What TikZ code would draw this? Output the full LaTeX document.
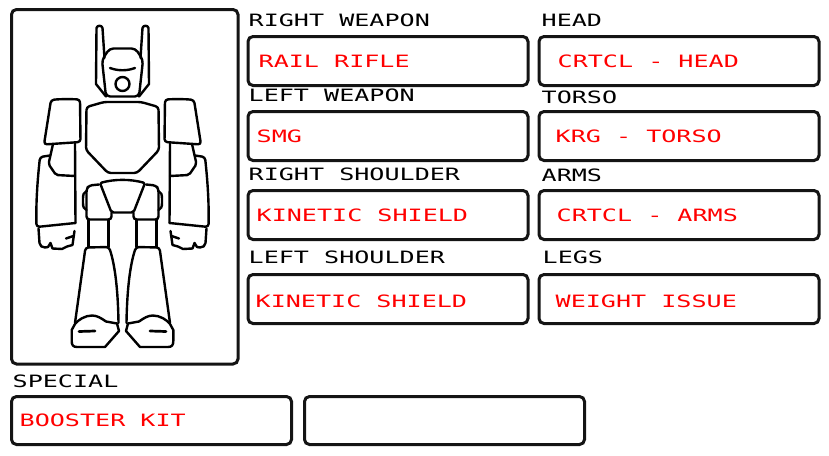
\documentclass[tikz,border=0pt]{standalone}
\usepackage{fontspec}
\newfontfamily\pix[FakeStretch=1.475]{DejaVu Sans Mono}
\begin{document}
\begin{tikzpicture}[x=1pt,y=-1pt,
  lbl/.style={font=\pix\fontsize{17}{17}\selectfont, anchor=base west, inner sep=0pt, text=black},
  val/.style={lbl, text=red},
  field/.style={draw=black!92, line width=3pt, rounded corners=5pt, anchor=north west, inner sep=0pt, minimum width=280pt, minimum height=49pt},
  robo/.style={draw=black, line width=2.4pt, line join=round, line cap=round}]
\useasboundingbox (0,0) rectangle (829,455);
% frame
\node[field, minimum width=226.5pt, minimum height=354.5pt] (frame) at (10,8) {};
% fields
\node[field] (rwbox) at (246.5,35) {};
\node[field] (lwbox) at (246.5,110) {};
\node[field] (rsbox) at (246.5,189) {};
\node[field] (lsbox) at (246.5,273) {};
\node[field] (hdbox) at (537.5,35) {};
\node[field] (tobox) at (537.5,110) {};
\node[field] (arbox) at (537.5,189) {};
\node[field] (lgbox) at (537.5,273) {};
\node[field, minimum height=48pt] (spbox) at (10,395) {};
\node[field, minimum height=48pt] (spbox2) at (303,395) {};
% labels
\node[lbl] (rwl) at (248.5,26) {RIGHT WEAPON};
\node[lbl] (lwl) at (248.5,101) {LEFT WEAPON};
\node[lbl] (rsl) at (248.5,180) {RIGHT SHOULDER};
\node[lbl] (lsl) at (248.5,263) {LEFT SHOULDER};
\node[lbl] (hdl) at (541.5,27) {HEAD};
\node[lbl] (tol) at (541.5,103) {TORSO};
\node[lbl] (arl) at (541.5,181) {ARMS};
\node[lbl] (lgl) at (542.5,263) {LEGS};
\node[lbl] (spl) at (12.5,387) {SPECIAL};
% values
\node[val] (rwv) at (258.5,67) {RAIL RIFLE};
\node[val] (lwv) at (256.5,142) {SMG};
\node[val] (rsv) at (256.5,221) {KINETIC SHIELD};
\node[val] (lsv) at (255.5,307) {KINETIC SHIELD};
\node[val] (hdv) at (557.5,67) {CRTCL - HEAD};
\node[val] (tov) at (555.5,142) {KRG - TORSO};
\node[val] (arv) at (556.5,221) {CRTCL - ARMS};
\node[val] (lgv) at (555.5,307) {WEIGHT ISSUE};
\node[val] (spv) at (19.5,426) {BOOSTER KIT};
% robot
\newcommand\robhalf{%
  % antenna
  \draw[robo] (104.5,58) -- (102.5,28) .. controls (102,25) and (97,25) .. (96.5,28) -- (96,84) -- (106,96.5);
  % shoulder pad
  \draw[robo, rounded corners=3pt] (51,100) .. controls (60,99) and (70,99) .. (80,99.5) -- (80.5,142) -- (44,144.5) -- cycle;
  % elbow
  \draw[robo, rounded corners=2pt] (53,144) -- (48.5,164) -- (56,175) -- (75,176);
  \draw[robo] (75,143) -- (75.5,223);
  % forearm
  \draw[robo, rounded corners=3pt] (50,155.5) -- (40,157) .. controls (37,185) and (36,205) .. (36.5,227) -- (75.5,223);
  % fist
  \draw[robo] (38.5,228.5) -- (39.5,243) .. controls (40,246) and (42,247.5) .. (45,247.5) -- (48,247) -- (50.5,243) -- (52.5,248.5) -- (62,249) -- (67,246.5) -- (72.5,245) -- (74.5,231);
  \draw[robo] (66,238.5) -- (73.5,236);
  % hip
  \draw[robo, rounded corners=3pt] (99,184.5) -- (89,185.5) -- (86.5,189) -- (86.5,219.5) -- (111.5,219.5) -- (111.5,212.5);
  \draw[robo] (86.5,191) .. controls (83.5,192) and (83,195) .. (83,199) -- (83,203) .. controls (83,207) and (84,209) .. (86.5,210);
  % thigh
  \draw[robo] (88.5,219.5) -- (88.5,247);
  \draw[robo] (108.5,219.5) -- (108.5,247);
  % shin
  \draw[robo, rounded corners=3pt] (75,323) -- (85.5,247.5) -- (109,247) .. controls (115,265) and (118,290) .. (118.5,323);
  % foot
  \draw[robo] (71.7,330) -- (75,324) .. controls (78,320) and (85,315.5) .. (92,315.5) .. controls (97,315.5) and (101,318) .. (106,321.5) -- (117,323.5) -- (119,331) -- (105,347) -- (77,347) .. controls (73,347) and (71.7,345) .. (71.7,341) -- cycle;
  \draw[line width=2.7pt, line cap=round] (79,331.5) -- (95,331);
}
\begin{scope}\robhalf\end{scope}
\begin{scope}[xshift=245pt, xscale=-1]\robhalf\end{scope}
% head
\draw[robo, rounded corners=4pt] (106,96.5) -- (102,60) -- (109.5,48.5) -- (135.5,48.5) -- (143,60) -- (139,96.5) -- cycle;
\draw[line width=2.4pt, line cap=round] (110,68) .. controls (118,71) and (127,71) .. (135,68);
\draw[robo] (122.5,84) circle (7pt);
% torso
\draw[robo, rounded corners=3pt] (104,102) -- (141,102) -- (158.5,107) -- (159,150) -- (137,173) -- (108,173) -- (86,150) -- (86.5,107) -- cycle;
% pelvis
\draw[robo, rounded corners=2pt] (100,183) .. controls (115,179) and (130,179) .. (145,183) -- (133.5,212.5) -- (111.5,212.5) -- cycle;
\end{tikzpicture}
\end{document}
